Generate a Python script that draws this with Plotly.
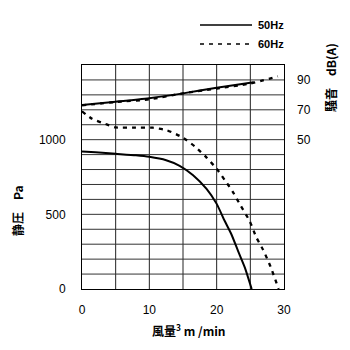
import plotly.graph_objects as go

# Static pressure (Pa) vs air flow (m3/min)
flow_50 = [0, 2, 5, 8, 10, 12.5, 14.5, 16.5, 18.5, 20, 21.2, 22.2, 23.2, 24.2, 25.2]
pa_50 = [921, 915, 905, 895, 885, 862, 825, 762, 670, 570, 455, 365, 252, 142, 0]

flow_60 = [0, 1.5, 3.5, 5, 8, 10.5, 12.6, 15, 16.8, 18.5, 20, 21.3, 22.4, 23.6, 24.9, 25.9, 26.9, 28, 29.2]
pa_60 = [1190, 1140, 1105, 1082, 1081, 1080, 1063, 1013, 953, 880, 805, 723, 650, 555, 455, 345, 262, 150, 0]

# Noise dB(A) vs air flow
nflow_50 = [0, 5, 10, 15, 20, 25.5]
db_50 = [73.2, 75.4, 77.8, 81.0, 84.8, 88.4]

nflow_60 = [0, 5, 10, 15, 20, 25, 29.1]
db_60 = [73.0, 75.2, 77.0, 81.0, 84.2, 87.6, 92.4]

x_ticks = [0, 10, 20, 30]
y_ticks = [0, 500, 1000]
db_ticks = [50, 70, 90]

series_names = ["50Hz", "60Hz"]

tick_font = dict(family="Liberation Sans, Arial", size=12, color="black")
jp_font = dict(family="Noto Sans CJK JP", size=12, color="black")
DASH = "4px,5px"

fig = go.Figure()
fig.add_trace(go.Scatter(x=flow_50, y=pa_50, mode="lines", line=dict(color="black", width=2, shape="spline", smoothing=0.6), name="50Hz"))
fig.add_trace(go.Scatter(x=flow_60, y=pa_60, mode="lines", line=dict(color="black", width=2.3, dash=DASH, shape="spline", smoothing=0.6), name="60Hz"))
fig.add_trace(go.Scatter(x=nflow_50, y=db_50, mode="lines", yaxis="y2", line=dict(color="black", width=2, shape="spline", smoothing=0.6), name="50Hz noise"))
fig.add_trace(go.Scatter(x=nflow_60, y=db_60, mode="lines", yaxis="y2", line=dict(color="black", width=2.3, dash=DASH, shape="spline", smoothing=0.6), name="60Hz noise"))

fig.update_layout(
    width=350, height=350,
    margin=dict(l=82, r=66, t=65, b=61),
    paper_bgcolor="white", plot_bgcolor="white",
    showlegend=False,
    xaxis=dict(range=[0, 30], tickvals=x_ticks, showgrid=False,
               showline=True, linecolor="black", linewidth=1, mirror=True,
               ticks="", tickfont=tick_font, zeroline=False, ticklabelstandoff=10),
    yaxis=dict(range=[0, 1500], tickvals=y_ticks, showgrid=False,
               showline=True, linecolor="black", linewidth=1, mirror=True,
               ticks="", tickfont=tick_font, zeroline=False, ticklabelstandoff=13),
    yaxis2=dict(range=[-50, 100], tickvals=db_ticks, overlaying="y", side="right",
                showgrid=False, showline=False, ticks="", tickfont=tick_font,
                zeroline=False, ticklabelstandoff=12),
)

# grid lines
for gx in range(5, 30, 5):
    fig.add_shape(type="line", xref="x", yref="paper", x0=gx, x1=gx, y0=0, y1=1,
                  line=dict(color="#222", width=1), layer="below")
for gy in range(100, 1500, 100):
    fig.add_shape(type="line", xref="paper", yref="y", x0=0, x1=1, y0=gy, y1=gy,
                  line=dict(color="#333", width=1), layer="below")

# legend (drawn manually)
leg_y = [25, 44]
for name, yy, dash in zip(series_names, leg_y, ["solid", DASH]):
    py = 1 - (yy - 65) / (289 - 65)
    fig.add_shape(type="line", xref="paper", yref="paper",
                  x0=(200 - 82) / 202, x1=(252 - 82) / 202, y0=py, y1=py,
                  line=dict(color="black", width=1.6, dash=dash))
    fig.add_annotation(text="<b>" + name + "</b>", xref="paper", yref="paper",
                       x=(256 - 82) / 202, y=py, xanchor="left", yanchor="middle",
                       showarrow=False, font=dict(family="Liberation Sans, Arial", size=11, color="black"))

# axis titles
fig.add_annotation(text="<b>風量<sup>3</sup> m /min</b>", xref="paper", yref="paper",
                   x=(189 - 82) / 202, y=1 - (330 - 65) / 224, xanchor="center", yanchor="middle",
                   showarrow=False, font=jp_font)
fig.add_annotation(text="<b>静圧　Pa</b>", xref="paper", yref="paper",
                   x=(17 - 82) / 202, y=1 - (211 - 65) / 224, xanchor="center", yanchor="middle",
                   textangle=-90, showarrow=False, font=jp_font)
fig.add_annotation(text="<b>騒音　dB(A)</b>", xref="paper", yref="paper",
                   x=(330 - 82) / 202, y=1 - (78 - 65) / 224, xanchor="center", yanchor="middle",
                   textangle=-90, showarrow=False, font=jp_font)

fig.write_html("out.html")
